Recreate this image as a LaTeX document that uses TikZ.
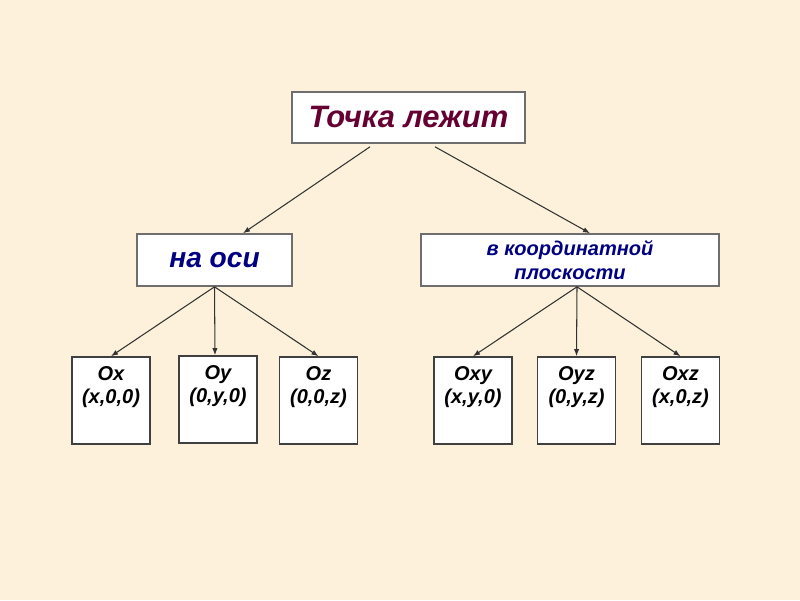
\documentclass[tikz,border=0pt]{standalone}
\usepackage{fontspec}
\setmainfont{Liberation Sans}
\usetikzlibrary{arrows.meta}
\definecolor{BG}{RGB}{253,241,219}
\definecolor{TopC}{RGB}{102,0,51}
\definecolor{AxC}{RGB}{0,0,128}
\definecolor{EdgeC}{RGB}{110,110,110}
\begin{document}
\begin{tikzpicture}[x=0.02cm, y=-0.02cm,
    box/.style={draw=EdgeC, line width=0.9pt, fill=white, inner sep=0pt, align=center},
    leaf/.style={box, draw=black!75, minimum width=1.56cm, minimum height=1.74cm},
    leaftext/.style={anchor=north, align=center, inner sep=0pt, yshift=-0.2cm,
      font=\fontsize{11.4}{13}\selectfont\bfseries\itshape},
    arr/.style={draw=black!80, line width=0.6pt, -{Latex[length=4pt,width=3pt]}}]
  \fill[BG] (0,0) rectangle (800,600);
  % levels
  \node[box, minimum width=4.66cm, minimum height=1.02cm,
        font=\fontsize{17.6}{20}\selectfont\bfseries\itshape, text=TopC] (top) at (408.5,117.5) {Точка лежит};
  \node[box, minimum width=3.1cm, minimum height=1.04cm,
        font=\fontsize{16}{18}\selectfont\bfseries\itshape, text=AxC] (axis) at (214.5,260) {на оси};
  \node[box, minimum width=5.96cm, minimum height=1.04cm,
        font=\fontsize{11.4}{13.5}\selectfont\bfseries\itshape, text=AxC] (plane) at (570,260) {в координатной\\плоскости};
  % leaves
  \node[leaf, label={[leaftext]north:Ox\\(x,0,0)}] (ox) at (111,400.5) {};
  \node[leaf, label={[leaftext]north:Oy\\(0,y,0)}] (oy) at (218,399.5) {};
  \node[leaf, label={[leaftext]north:Oz\\(0,0,z)}] (oz) at (318.5,400.5) {};
  \node[leaf, label={[leaftext]north:Oxy\\(x,y,0)}] (oxy) at (473,400.5) {};
  \node[leaf, label={[leaftext]north:Oyz\\(0,y,z)}] (oyz) at (576.5,400.5) {};
  \node[leaf, label={[leaftext]north:Oxz\\(x,0,z)}] (oxz) at (680.5,400.5) {};
  % arrows
  \draw[arr] ([xshift=-0.77cm,yshift=-0.06cm]top.south) -- ([xshift=0.57cm]axis.north);
  \draw[arr] ([xshift=0.53cm,yshift=-0.06cm]top.south) -- ([xshift=0.4cm]plane.north);
  \draw[arr] (axis.south) -- (ox.north);
  \draw[arr] (axis.south) -- ([xshift=-0.06cm]oy.north);
  \draw[arr] (axis.south) -- (oz.north);
  \draw[arr] ([xshift=0.14cm]plane.south) -- (oxy.north);
  \draw[arr] ([xshift=0.14cm]plane.south) -- (oyz.north);
  \draw[arr] ([xshift=0.14cm]plane.south) -- (oxz.north);
\end{tikzpicture}
\end{document}
